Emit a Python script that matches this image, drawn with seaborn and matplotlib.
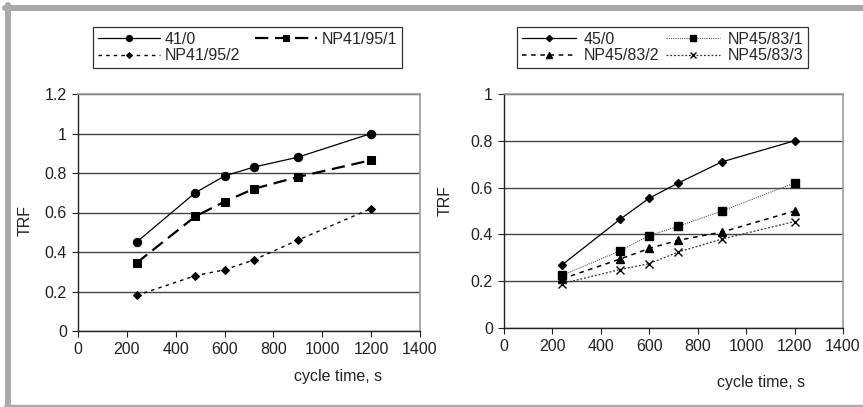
import numpy as np
import pandas as pd
import matplotlib
matplotlib.use('Agg')
import matplotlib.pyplot as plt
from matplotlib.lines import Line2D
import seaborn as sns

# data
cycle_time = [240, 480, 600, 720, 900, 1200]

trf_41_0 = [0.45, 0.70, 0.785, 0.83, 0.88, 1.00]
trf_np41_95_1 = [0.345, 0.58, 0.655, 0.72, 0.78, 0.865]
trf_np41_95_2 = [0.18, 0.28, 0.31, 0.36, 0.46, 0.62]

trf_45_0 = [0.27, 0.465, 0.555, 0.62, 0.71, 0.80]
trf_np45_83_1 = [0.225, 0.33, 0.395, 0.435, 0.50, 0.62]
trf_np45_83_2 = [0.21, 0.295, 0.34, 0.375, 0.41, 0.50]
trf_np45_83_3 = [0.19, 0.25, 0.275, 0.325, 0.38, 0.455]

left_labels = ['41/0', 'NP41/95/1', 'NP41/95/2']
right_labels = ['45/0', 'NP45/83/1', 'NP45/83/2', 'NP45/83/3']

sns.set_style('white')
plt.rcParams['font.family'] = ['Liberation Sans', 'DejaVu Sans']
plt.rcParams['font.size'] = 11.5

fig = plt.figure(figsize=(8.63, 4.07), dpi=100)
W, H = 863, 407

def px_axes(x0, y0, x1, y1):
    return fig.add_axes([x0 / W, 1 - y1 / H, (x1 - x0) / W, (y1 - y0) / H])

ax1 = px_axes(78, 94, 420, 331)
ax2 = px_axes(504, 94, 843, 328)

# left panel
styles_left = [
    dict(ls='-', marker='o', ms=6, lw=0.9),
    dict(ls=(0, (6, 3)), marker='s', ms=6, lw=1.6),
    dict(ls=(0, (2.5, 3)), marker='D', ms=4, lw=1.0),
]
for vals, lab, st in zip([trf_41_0, trf_np41_95_1, trf_np41_95_2], left_labels, styles_left):
    sns.lineplot(x=cycle_time, y=vals, ax=ax1, color='black', label=lab,
                 linestyle=st['ls'], marker=st['marker'], markersize=st['ms'],
                 linewidth=st['lw'], markeredgecolor='black')

styles_right = [
    dict(ls='-', marker='D', ms=4.2, lw=0.9, c='black'),
    dict(ls=(0, (1, 1)), marker='s', ms=5.5, lw=0.8, c='#555555'),
    dict(ls=(0, (3, 3)), marker='^', ms=6, lw=1.1, c='black'),
    dict(ls=(0, (1.5, 1.5)), marker='x', ms=5.5, lw=0.9, c='#333333'),
]
for vals, lab, st in zip([trf_45_0, trf_np45_83_1, trf_np45_83_2, trf_np45_83_3], right_labels, styles_right):
    sns.lineplot(x=cycle_time, y=vals, ax=ax2, color=st['c'], label=lab,
                 linestyle=st['ls'], marker=st['marker'], markersize=st['ms'],
                 linewidth=st['lw'], markeredgecolor='black', markerfacecolor='black',
                 markeredgewidth=1.0)

for ax, top, step in [(ax1, 1.2, 0.2), (ax2, 1.0, 0.2)]:
    ax.set_xlim(0, 1400)
    ax.set_ylim(0, top)
    ax.set_xticks(np.arange(0, 1401, 200))
    yt = np.round(np.arange(0, top + 0.001, step), 1)
    ax.set_yticks(yt)
    ax.set_yticklabels([f'{v:g}' for v in yt])
    ax.grid(axis='y', color='#444444', lw=1.0)
    ax.set_axisbelow(True)
    for s in ['top', 'right']:
        ax.spines[s].set_color('#999999')
        ax.spines[s].set_linewidth(1.2)
    for s in ['left', 'bottom']:
        ax.spines[s].set_color('#222222')
        ax.spines[s].set_linewidth(1.0)
    ax.tick_params(axis='both', direction='out', length=4, width=0.8, color='#222222',
                   labelsize=11.5, pad=4, left=True, bottom=True, labelcolor='#222222')
    ax.set_xlabel('')
    ax.set_ylabel('')

# legends, filled row by row
h1, l1 = ax1.get_legend_handles_labels()
order1 = [0, 2, 1]
ax1.get_legend().remove()
leg1 = fig.legend([h1[i] for i in order1], [l1[i] for i in order1], ncol=2,
                  loc='upper left', bbox_to_anchor=(93 / W, 1 - 27 / H),
                  frameon=True, fancybox=False, edgecolor='black', markerscale=0.75,
                  fontsize=11.5, handlelength=3.9, handletextpad=0.3, labelspacing=0.1,
                  borderpad=0.3, columnspacing=0.9, borderaxespad=0)
leg1.get_frame().set_linewidth(0.9)

h2, l2 = ax2.get_legend_handles_labels()
order2 = [0, 2, 1, 3]
ax2.get_legend().remove()
leg2 = fig.legend([h2[i] for i in order2], [l2[i] for i in order2], ncol=2,
                  loc='upper left', bbox_to_anchor=(517 / W, 1 - 27 / H),
                  frameon=True, fancybox=False, edgecolor='black', markerscale=0.75,
                  fontsize=11.5, handlelength=3.4, handletextpad=0.45, labelspacing=0.1,
                  borderpad=0.3, columnspacing=0.45, borderaxespad=0)
leg2.get_frame().set_linewidth(0.9)

# axis titles
fig.text(25 / W, 1 - 220 / H, 'TRF', rotation=90, ha='center', va='center', fontsize=11.5, color='#222222')
fig.text(445 / W, 1 - 200 / H, 'TRF', rotation=90, ha='center', va='center', fontsize=11.5, color='#222222')
fig.text(338 / W, 1 - 377 / H, 'cycle time, s', ha='center', va='center', fontsize=11.5, color='#222222')
fig.text(761 / W, 1 - 382 / H, 'cycle time, s', ha='center', va='center', fontsize=11.5, color='#222222')

# gray frame
frame_c = '#aaaaaa'
fig.add_artist(Line2D([5 / W, 1], [1 - 8 / H, 1 - 8 / H], color=frame_c, lw=4.3, transform=fig.transFigure))
fig.add_artist(Line2D([7.5 / W, 7.5 / W], [1 - 5 / H, 1 - 406 / H], color=frame_c, lw=4.3, transform=fig.transFigure))
fig.add_artist(Line2D([5 / W, 1], [1 - 405.5 / H, 1 - 405.5 / H], color=frame_c, lw=2.5, transform=fig.transFigure))

fig.savefig('out.png', dpi=100)
